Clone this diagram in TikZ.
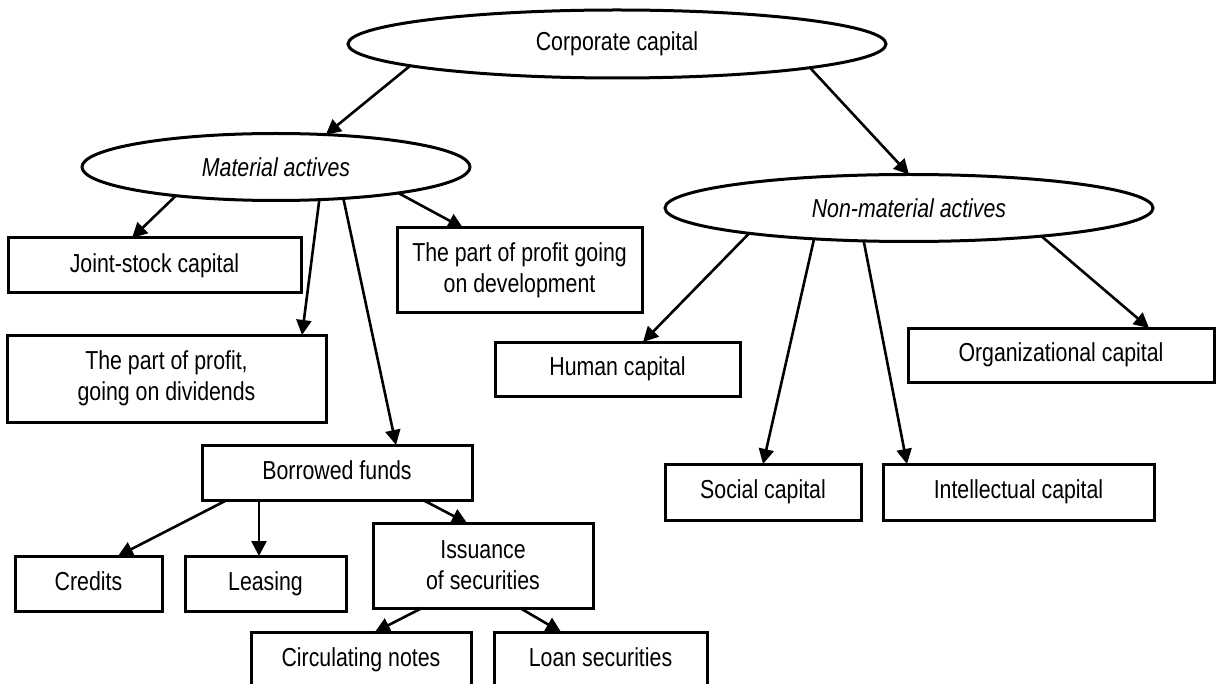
\documentclass[tikz,border=0pt]{standalone}
\usepackage{fontspec}
\setmainfont[FakeStretch=0.82]{Liberation Sans}
\usetikzlibrary{shapes.geometric,arrows.meta}
\begin{document}
\begin{tikzpicture}[x=1pt,y=-1pt,
  every node/.style={font=\fontsize{26}{31}\selectfont, inner sep=0pt, outer sep=0pt},
  oval/.style={ellipse, draw, line width=3pt},
  boxnode/.style={rectangle, draw, line width=3pt, align=center},
  oneline/.style={text height=19pt, text depth=5.5pt},
  link/.style={line width=2.6pt, -{Triangle[length=15pt,width=15pt]}}]
\clip (0,0) rectangle (1217,684);
\fill[white] (0,0) rectangle (1217,684);

% ellipses
\node[oval, minimum width=538pt, minimum height=68pt] (corp) at (617,44) {Corporate capital};
\node[oval, minimum width=388pt, minimum height=67pt] (mat) at (276,167) {\itshape Material actives};
\node[oval, minimum width=488pt, minimum height=67pt] (nonmat) at (909,208) {\itshape Non-material actives};

% boxes, material side
\node[boxnode, oneline, minimum width=293pt, minimum height=55pt] (joint) at (154.5,265.5) {Joint-stock capital};
\node[boxnode, minimum width=319pt, minimum height=87pt] (divid) at (166.5,378.5) {The part of profit,\\going on dividends};
\node[boxnode, minimum width=245pt, minimum height=85pt] (devel) at (519.5,270.5) {The part of profit going\\on development};
\node[boxnode, oneline, minimum width=270pt, minimum height=55pt] (borrow) at (337,472.5) {Borrowed funds};
\node[boxnode, oneline, minimum width=147pt, minimum height=55pt] (credits) at (88.5,583.5) {Credits};
\node[boxnode, oneline, minimum width=161pt, minimum height=55pt] (leasing) at (265.5,583.5) {Leasing};
\node[boxnode, minimum width=220pt, minimum height=85pt] (issue) at (483,565.5) {Issuance\\of securities};
\node[boxnode, oneline, minimum width=220pt, minimum height=56pt] (circ) at (361,660) {Circulating notes};
\node[boxnode, oneline, minimum width=213pt, minimum height=56pt] (loan) at (600.5,660) {Loan securities};

% boxes, non-material side
\node[boxnode, oneline, minimum width=245pt, minimum height=54pt] (human) at (617.5,369) {Human capital};
\node[boxnode, oneline, minimum width=306pt, minimum height=54pt] (org) at (1061,355) {Organizational capital};
\node[boxnode, oneline, minimum width=196pt, minimum height=56pt] (social) at (763,492) {Social capital};
\node[boxnode, oneline, minimum width=271pt, minimum height=56pt] (intel) at (1018.5,492) {Intellectual capital};

% connectors
\draw[link] (corp.186.6) -- (mat.33);
\draw[link] (corp.353.5) -- (nonmat.north);

\draw[link] (mat.196.2) -- ([xshift=-22.5pt]joint.north);
\draw[link] (mat.323.3) -- ([xshift=135.5pt]divid.north);
\draw[link] (mat.335.3) -- ([xshift=59pt]borrow.north);
\draw[link] (mat.348.2) -- ([xshift=-56.5pt]devel.north);

\draw[link] (nonmat.189.9) -- ([xshift=25.5pt]human.north);
\draw[link] (nonmat.198.1) -- (social.north);
\draw[link] (nonmat.216.3) -- ([xshift=-111.5pt]intel.north);
\draw[link] (nonmat.348.8) -- ([xshift=88pt]org.north);

\draw[link] ([xshift=-110pt]borrow.south) -- ([xshift=29.5pt]credits.north);
\draw[link] ([xshift=-78pt]borrow.south) -- ([xshift=-6.5pt]leasing.north);
\draw[link] ([xshift=86pt]borrow.south) -- ([xshift=-16pt]issue.north);
\draw[link] ([xshift=-61pt]issue.south) -- ([xshift=14pt]circ.north);
\draw[link] ([xshift=37pt]issue.south) -- ([xshift=-39.5pt]loan.north);
\end{tikzpicture}
\end{document}
